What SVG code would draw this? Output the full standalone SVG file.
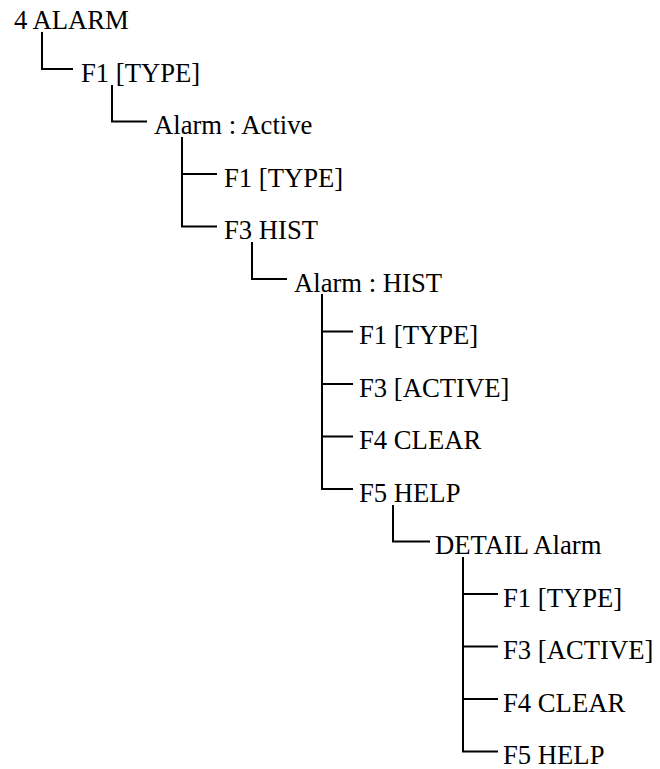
<svg xmlns="http://www.w3.org/2000/svg" width="660" height="769" viewBox="0 0 660 769">
<rect width="660" height="769" fill="#fff"/>
<g id="connectors" fill="none" stroke="#000" stroke-width="2">
<path d="M42 32 V69 H73"/>
<path d="M112 85 V121.5 H147"/>
<path d="M182 137 V226.5 H217 M182 174 H217"/>
<path d="M252 242 V279 H287"/>
<path d="M322 294 V489 H353 M322 331.5 H353 M322 384 H353 M322 436.5 H353"/>
<path d="M393 505 V541.5 H430"/>
<path d="M463 557 V751.5 H498 M463 594 H498 M463 646.5 H498 M463 699 H498"/>
</g>
<g id="n0"><text x="14" y="29" font-family="Liberation Serif, serif" font-size="26.67">4 ALARM</text></g>
<g id="n1"><text x="81" y="81.5" font-family="Liberation Serif, serif" font-size="26.67">F1 [TYPE]</text></g>
<g id="n2"><text x="154" y="134" font-family="Liberation Serif, serif" font-size="26.67">Alarm : Active</text></g>
<g id="n3"><text x="224" y="186.5" font-family="Liberation Serif, serif" font-size="26.67">F1 [TYPE]</text></g>
<g id="n4"><text x="224" y="239" font-family="Liberation Serif, serif" font-size="26.67">F3 HIST</text></g>
<g id="n5"><text x="294" y="291.5" font-family="Liberation Serif, serif" font-size="26.67">Alarm : HIST</text></g>
<g id="n6"><text x="359" y="344" font-family="Liberation Serif, serif" font-size="26.67">F1 [TYPE]</text></g>
<g id="n7"><text x="359" y="396.5" font-family="Liberation Serif, serif" font-size="26.67">F3 [ACTIVE]</text></g>
<g id="n8"><text x="359" y="449" font-family="Liberation Serif, serif" font-size="26.67">F4 CLEAR</text></g>
<g id="n9"><text x="359" y="501.5" font-family="Liberation Serif, serif" font-size="26.67">F5 HELP</text></g>
<g id="n10"><text x="435" y="554" font-family="Liberation Serif, serif" font-size="26.67">DETAIL Alarm</text></g>
<g id="n11"><text x="503" y="606.5" font-family="Liberation Serif, serif" font-size="26.67">F1 [TYPE]</text></g>
<g id="n12"><text x="503" y="659" font-family="Liberation Serif, serif" font-size="26.67">F3 [ACTIVE]</text></g>
<g id="n13"><text x="503" y="711.5" font-family="Liberation Serif, serif" font-size="26.67">F4 CLEAR</text></g>
<g id="n14"><text x="503" y="764" font-family="Liberation Serif, serif" font-size="26.67">F5 HELP</text></g>
</svg>
